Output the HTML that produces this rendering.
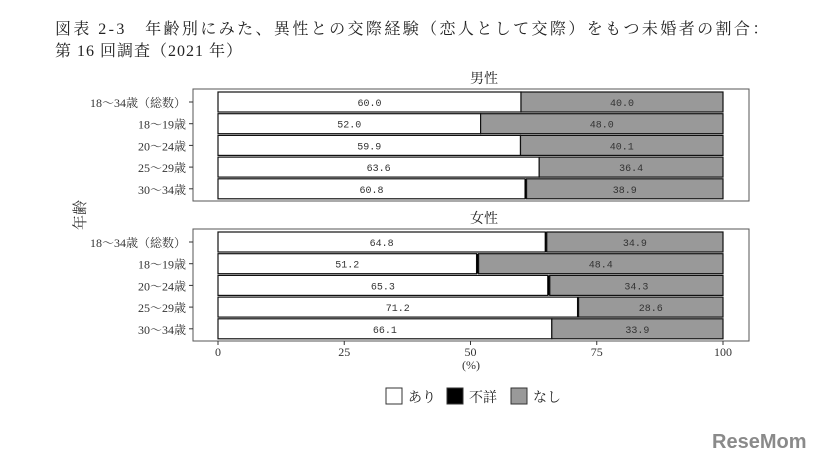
<!DOCTYPE html>
<html><head><meta charset="utf-8"><style>
body{margin:0;background:#fff;width:823px;height:468px;overflow:hidden;font-family:"Liberation Serif","Noto Serif CJK SC","Noto Sans CJK JP",serif;}
</style></head><body>
<svg width="823" height="468" xmlns="http://www.w3.org/2000/svg">
<text x="55" y="34" font-size="16" letter-spacing="2.4" fill="#222">図表 2-3　年齢別にみた、異性との交際経験（恋人として交際）をもつ未婚者の割合：</text>
<text x="55" y="56" font-size="16" letter-spacing="1" fill="#222">第 16 回調査（2021 年）</text>
<g id="plot"></g>
<text x="712" y="448" font-family="Liberation Sans, sans-serif" font-weight="bold" font-size="20" fill="#8a8a8a">ReseMom</text>
</svg>
<script>
const categories=["18～34歳（総数）","18～19歳","20～24歳","25～29歳","30～34歳"];
const panels=["男性","女性"];
const yesMale=[60.0,52.0,59.9,63.6,60.8];
const noMale=[40.0,48.0,40.1,36.4,38.9];
const yesFemale=[64.8,51.2,65.3,71.2,66.1];
const noFemale=[34.9,48.4,34.3,28.6,33.9];
const xTicks=[0,25,50,75,100];
const NS="http://www.w3.org/2000/svg";
const g=document.getElementById("plot");
const x0=218,x1=723;
const xs=v=>x0+(x1-x0)*v/100;
function mk(t,a,p){const e=document.createElementNS(NS,t);for(const k in a)e.setAttribute(k,a[k]);(p||g).appendChild(e);return e;}
const panelTops=[89,229];
const data=[[yesMale,noMale],[yesFemale,noFemale]];
panels.forEach((pn,pi)=>{
  const top=panelTops[pi];
  const t=mk("text",{x:484,y:top-6,"font-size":14,"text-anchor":"middle",fill:"#222"});t.textContent=pn;
  
  
  const box=mk("rect",{x:193,y:top,width:556,height:112,fill:"#fff",stroke:"#555","stroke-width":1});
  
  
  const [yes,no]=data[pi];
  categories.forEach((c,i)=>{
    const cy=top+13+i*21.7, h=20, y=cy-h/2;
    const unk=Math.max(0,100-yes[i]-no[i]);
    const r1=mk("rect",{x:xs(0),y:y,width:xs(yes[i])-xs(0),height:h,fill:"#fff",stroke:"#111","stroke-width":1.2});
    
    
    const r2=mk("rect",{x:xs(yes[i]),y:y,width:Math.max(xs(yes[i]+unk)-xs(yes[i]),1.5),height:h,fill:"#000"});
    
    
    const r3=mk("rect",{x:xs(yes[i]+unk),y:y,width:xs(100)-xs(yes[i]+unk),height:h,fill:"#999",stroke:"#111","stroke-width":1.2});
    
    
    const l1=mk("text",{x:(xs(0)+xs(yes[i]))/2,y:cy+4,"font-size":10,"font-family":"Liberation Mono, monospace","text-anchor":"middle",fill:"#333"});l1.textContent=yes[i].toFixed(1);
    
    
    const l2=mk("text",{x:(xs(yes[i]+unk)+xs(100))/2,y:cy+4,"font-size":10,"font-family":"Liberation Mono, monospace","text-anchor":"middle",fill:"#333"});l2.textContent=no[i].toFixed(1);
    
    
    const cl=mk("text",{x:186,y:cy+5,"font-size":12,"text-anchor":"end",fill:"#333"});cl.textContent=c;
    
    
    mk("line",{x1:189,x2:193,y1:cy,y2:cy,stroke:"#333"});
  });
});
xTicks.forEach(v=>{
  mk("line",{x1:xs(v),x2:xs(v),y1:341,y2:345,stroke:"#333"});
  const t=mk("text",{x:xs(v),y:356,"font-size":12,"text-anchor":"middle",fill:"#333"});t.textContent=v;
  
  
});
const xt=mk("text",{x:471,y:369,"font-size":12,"text-anchor":"middle",fill:"#333"});xt.textContent="(%)";


const yt=mk("text",{x:0,y:0,"font-size":15,"text-anchor":"middle",fill:"#333",transform:"translate(85,215) rotate(-90)"});yt.textContent="年齢";


const legend=[["あり","#fff",386],["不詳","#000",447],["なし","#999",511]];
legend.forEach(([lab,col,lx])=>{
  const r=mk("rect",{x:lx,y:388,width:16,height:16,fill:col,stroke:"#333"});
  
  
  const t=mk("text",{x:lx+22,y:402,"font-size":14,fill:"#222"});t.textContent=lab;
  
  
});
</script>
</body></html>
